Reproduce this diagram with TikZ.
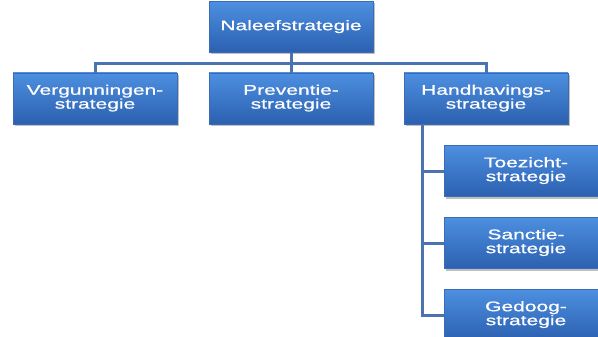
\documentclass[tikz,border=0pt]{standalone}
\usepackage{fontspec}
\usepackage{graphicx}
\setmainfont{Liberation Sans}
\newfontfamily\boxfont[FakeBold=0.6]{Liberation Sans}
\usetikzlibrary{shadows}
\definecolor{boxtop}{HTML}{4D8FE0}
\definecolor{boxbot}{HTML}{2C60B0}
\definecolor{boxedge}{HTML}{3A6BB4}
\definecolor{linec}{HTML}{4A73B3}
\newcommand\bxt[1]{\scalebox{1.5}[1]{\begin{tabular}{@{}c@{}}#1\end{tabular}}}
\tikzset{
  sbox/.style={rectangle, minimum width=164pt, minimum height=51pt, inner sep=0pt,
    top color=boxtop, bottom color=boxbot, draw=boxedge, line width=0.4pt,
    text=white, font=\boxfont\fontsize{14}{12.5}\selectfont,
    drop shadow={shadow xshift=1.5pt, shadow yshift=-2pt, fill=black, opacity=0.25}},
  conn/.style={draw=linec, line width=3pt}
}
\begin{document}
\begin{tikzpicture}[x=1pt,y=1pt]
\useasboundingbox (0,0) rectangle (598,-337);
\clip (0,0) rectangle (598,-337);
\fill[white] (0,0) rectangle (598,-337);
\coordinate (j) at (291,-64);
\coordinate (hv) at (422,-124);
\node[sbox] (top) at (291,-27) {\bxt{Naleefstrategie}};
\node[sbox] (v) at (95,-98.5) {\bxt{Vergunningen-\\strategie}};
\node[sbox] (p) at (291,-98.5) {\bxt{Preventie-\\strategie}};
\node[sbox] (h) at (486,-98.5) {\bxt{Handhavings-\\strategie}};
\node[sbox] (t) at (526,-171) {\bxt{Toezicht-\\strategie}};
\node[sbox] (s) at (526,-243) {\bxt{Sanctie-\\strategie}};
\node[sbox] (g) at (526,-315) {\bxt{Gedoog-\\strategie}};
\draw[conn] (top.south) -- (j);
\draw[conn] (v.north) |- (j) -| (h.north);
\draw[conn] (j) -- (p.north);
\draw[conn] (hv) |- (t.west);
\draw[conn] (hv) |- (s.west);
\draw[conn] (hv) |- (g.west);
\end{tikzpicture}
\end{document}
